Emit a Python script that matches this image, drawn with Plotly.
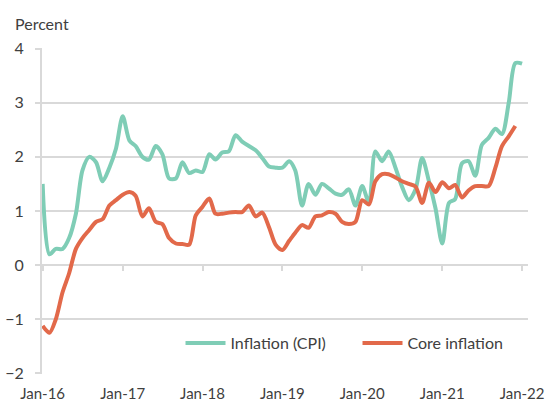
import plotly.graph_objects as go
import pandas as pd

months = list(pd.date_range("2016-01-01", "2022-01-01", freq="MS").strftime("%Y-%m-%d"))

cpi = [1.5, 0.2, 0.3, 0.3, 0.5, 0.95, 1.75, 2.0, 1.9, 1.55, 1.8, 2.15,
       2.75, 2.3, 2.2, 2.0, 1.95, 2.2, 2.05, 1.6, 1.6, 1.9, 1.7, 1.75,
       1.72, 2.05, 1.95, 2.08, 2.1, 2.4, 2.28, 2.2, 2.12, 1.98, 1.82, 1.8,
       1.8, 1.92, 1.75, 1.1, 1.5, 1.3, 1.5, 1.42, 1.32, 1.3, 1.4, 1.1,
       1.46, 1.15, 2.1, 1.92, 2.1, 1.8, 1.45, 1.2, 1.4, 1.98, 1.55, 1.05,
       0.4, 1.15, 1.22, 1.88, 1.92, 1.65, 2.22, 2.35, 2.52, 2.42, 3.0, 3.73,
       3.72]

core = [-1.12, -1.25, -1.0, -0.5, -0.15, 0.3, 0.5, 0.65, 0.8, 0.85, 1.1, 1.2,
        1.3, 1.35, 1.28, 0.9, 1.05, 0.8, 0.76, 0.5, 0.4, 0.39, 0.38, 0.92,
        1.08, 1.23, 0.95, 0.95, 0.97, 0.98, 0.98, 1.1, 0.9, 0.97, 0.7, 0.38,
        0.28, 0.45, 0.6, 0.74, 0.69, 0.9, 0.92, 0.98, 0.95, 0.8, 0.76, 0.8,
        1.2, 1.12, 1.55, 1.68, 1.68, 1.62, 1.55, 1.5, 1.45, 1.15, 1.52, 1.35,
        1.53, 1.42, 1.48, 1.25, 1.38, 1.46, 1.46, 1.46, 1.8, 2.2, 2.38, 2.57]

year_ticks = ["2016-01-01", "2017-01-01", "2018-01-01", "2019-01-01",
              "2020-01-01", "2021-01-01", "2022-01-01"]
year_labels = ["Jan-16", "Jan-17", "Jan-18", "Jan-19", "Jan-20", "Jan-21", "Jan-22"]
y_ticks = [-2, -1, 0, 1, 2, 3, 4]

FONT = "Lato"
TXT = "#404040"
GRID = "#d9d9d9"

fig = go.Figure()
fig.add_trace(go.Scatter(x=months, y=cpi, name="Inflation (CPI)", mode="lines",
                         line=dict(color="#7fcdb6", width=4, shape="spline", smoothing=0.8)))
fig.add_trace(go.Scatter(x=months[:len(core)], y=core, name="Core inflation", mode="lines",
                         line=dict(color="#e2694a", width=4, shape="spline", smoothing=0.8)))

fig.update_layout(
    width=550, height=401,
    margin=dict(l=42, r=22, t=48, b=27, autoexpand=False),
    paper_bgcolor="white", plot_bgcolor="white",
    font=dict(family=FONT, size=15, color=TXT),
    showlegend=True,
    legend=dict(orientation="h", x=0.285, y=0.095, xanchor="left", yanchor="middle",
                bgcolor="rgba(0,0,0,0)", font=dict(size=16, color=TXT),
                itemwidth=40, tracegroupgap=0, entrywidth=122, entrywidthmode="pixels"),
    xaxis=dict(type="date", range=["2015-12-29", "2022-01-28"], automargin=False,
               tickvals=year_ticks, ticktext=year_labels,
               showgrid=False, zeroline=False, showline=False,
               ticks="outside", ticklen=6, tickcolor="rgba(0,0,0,0)",
               tickfont=dict(size=15, color=TXT)),
    xaxis2=dict(type="date", range=["2015-12-29", "2022-01-28"], overlaying="x",
                anchor="free", position=1/3, side="bottom", automargin=False,
                tickvals=year_ticks, showticklabels=False,
                showgrid=False, zeroline=False, showline=False,
                ticks="outside", ticklen=5, tickwidth=2, tickcolor=GRID),
    yaxis=dict(range=[-2.01, 4.01], tickvals=y_ticks, automargin=False,
               showgrid=True, gridcolor=GRID, gridwidth=2,
               zeroline=False, showline=True, linecolor=GRID, linewidth=2,
               ticks="outside", ticklen=5, tickwidth=2, tickcolor=GRID,
               ticklabelstandoff=8, tickfont=dict(size=16, color=TXT)),
    annotations=[dict(text="Percent", xref="paper", yref="paper", x=-0.06, y=1.0,
                      xanchor="left", yanchor="bottom", yshift=13, showarrow=False,
                      font=dict(size=16, color=TXT))],
)
# helper trace that activates xaxis2 (tick marks along the zero line)
fig.add_trace(go.Scatter(x=[months[0]], y=[None], xaxis="x2", showlegend=False,
                         hoverinfo="skip"))

fig.write_html("out.html", config={"displayModeBar": False},
               post_script="document.body.style.margin='0';")
